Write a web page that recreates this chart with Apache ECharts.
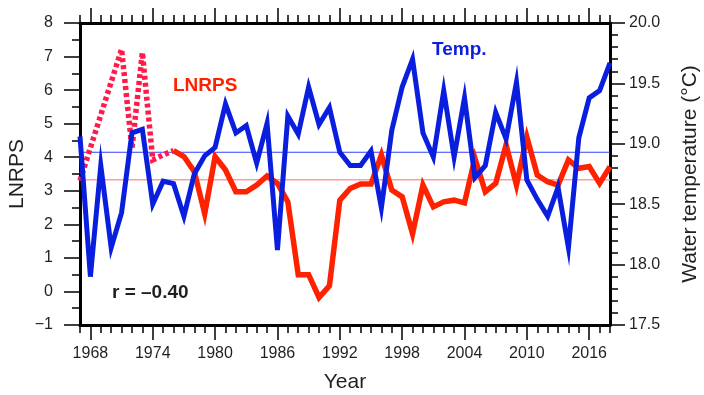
<!DOCTYPE html>
<html>
<head>
<meta charset="utf-8">
<script src="https://cdn.jsdelivr.net/npm/echarts@6/dist/echarts.min.js"></script>
<style>html,body{margin:0;padding:0;background:#fff}#c{width:704px;height:395px}</style>
</head>
<body>
<div id="c"></div>
<script>
// ---- data ----
var years = [];
for (var y = 1967; y <= 2018; y++) years.push(y);

var tempValues = [19.06, 17.90, 18.82, 18.14, 18.43, 19.09, 19.12, 18.50, 18.69, 18.67,
  18.40, 18.75, 18.90, 18.97, 19.33, 19.09, 19.15, 18.84, 19.17, 18.12,
  19.23, 19.08, 19.47, 19.16, 19.30, 18.93, 18.82, 18.82, 18.94, 18.47,
  19.11, 19.47, 19.70, 19.09, 18.89, 19.44, 18.89, 19.38, 18.72, 18.82,
  19.26, 19.04, 19.51, 18.70, 18.54, 18.40, 18.64, 18.14, 19.05, 19.38,
  19.44, 19.67];

// LNRPS, early (dotted) part: 1967-1976; null = no point
var lnrpsEarlyYears = [1967, 1968, 1969, 1970, 1971, 1972, 1973, 1974, 1975, 1976];
var lnrpsEarly = [3.30, null, null, null, 7.22, 4.27, 7.12, 3.92, 4.07, 4.20];

// LNRPS, solid part: 1976-2018
var lnrpsYears = [];
for (var y2 = 1976; y2 <= 2018; y2++) lnrpsYears.push(y2);
var lnrps = [4.20, 4.02, 3.57, 2.32, 4.02, 3.62, 2.97, 2.97, 3.17, 3.44,
  3.22, 2.67, 0.50, 0.50, -0.18, 0.17, 2.72, 3.07, 3.20, 3.20,
  4.07, 3.02, 2.82, 1.72, 3.17, 2.52, 2.67, 2.72, 2.64, 3.97,
  2.97, 3.22, 4.37, 3.17, 4.60, 3.47, 3.27, 3.17, 3.92, 3.67,
  3.72, 3.22, 3.72];

var meanTemp = 18.93;
var meanLnrps = 3.33;

var xMajorTicks = [1968, 1974, 1980, 1986, 1992, 1998, 2004, 2010, 2016];

// ---- chart ----
var FONT = '"Liberation Sans", Arial, Helvetica, sans-serif';
var TXT = '#231f20';

function pairs(xs, vs) { return xs.map(function (x, i) { return [x, vs[i]]; }); }

var chart = echarts.init(document.getElementById('c'), null, { renderer: 'canvas' });

var axLine = { show: true, onZero: false, lineStyle: { color: '#000', width: 3 } };
var noLine = { show: false, onZero: false };
var tickStyle = { color: '#000', width: 1.5 };

var option = {
  animation: false,
  backgroundColor: '#fff',
  grid: { left: 80, top: 23, right: 94, bottom: 70, containLabel: false, outerBoundsMode: 'none' },
  xAxis: [
    {
      type: 'value', min: 1967, max: 2018, position: 'bottom',
      axisLine: axLine,
      axisTick: { show: true, length: 15, lineStyle: tickStyle, customValues: xMajorTicks },
      axisLabel: { show: true, customValues: xMajorTicks, margin: 21, fontSize: 16, color: TXT, fontFamily: FONT,
        formatter: function (v) { return String(v); } },
      splitLine: { show: false },
      name: 'Year', nameLocation: 'middle', nameGap: 47,
      nameTextStyle: { fontSize: 21, color: TXT, fontFamily: FONT }
    },
    {
      type: 'value', min: 1967, max: 2018, interval: 1, position: 'bottom',
      axisLine: noLine,
      axisTick: { show: true, length: 8, lineStyle: tickStyle },
      axisLabel: { show: false }, splitLine: { show: false }
    },
    {
      type: 'value', min: 1967, max: 2018, position: 'top',
      axisLine: axLine,
      axisTick: { show: true, length: 15, lineStyle: tickStyle, customValues: xMajorTicks },
      axisLabel: { show: false }, splitLine: { show: false }
    },
    {
      type: 'value', min: 1967, max: 2018, interval: 1, position: 'top',
      axisLine: noLine,
      axisTick: { show: true, length: 8, lineStyle: tickStyle },
      axisLabel: { show: false }, splitLine: { show: false }
    }
  ],
  yAxis: [
    {
      type: 'value', min: -1, max: 8, interval: 1, position: 'left',
      axisLine: axLine,
      axisTick: { show: true, length: 16, lineStyle: tickStyle },
      minorTick: { show: true, splitNumber: 2, length: 8, lineStyle: tickStyle },
      axisLabel: {
        show: true, margin: 27, fontSize: 16, color: TXT, fontFamily: FONT,
        formatter: function (v) { return v < 0 ? '\u2212' + Math.abs(v) : String(v); }
      },
      splitLine: { show: false },
      name: 'LNRPS', nameLocation: 'middle', nameGap: 52, nameRotate: 90, nameMoveOverlap: false,
      nameTextStyle: { fontSize: 21, color: TXT, fontFamily: FONT }
    },
    {
      type: 'value', min: 17.5, max: 20, interval: 0.5, position: 'right',
      axisLine: axLine,
      axisTick: { show: true, length: 15, lineStyle: tickStyle },
      minorTick: { show: true, splitNumber: 5, length: 8, lineStyle: tickStyle },
      axisLabel: {
        show: true, margin: 19, fontSize: 16, color: TXT, fontFamily: FONT,
        formatter: function (v) { return v.toFixed(1); }
      },
      splitLine: { show: false },
      name: 'Water temperature (\u00b0C)', nameLocation: 'middle', nameGap: 70, nameRotate: 90,
      nameTextStyle: { fontSize: 21, color: TXT, fontFamily: FONT }
    }
  ],
  series: [
    { type: 'line', name: 'meanL', xAxisIndex: 0, yAxisIndex: 0, z: 1, data: [[1967, meanLnrps], [2018, meanLnrps]],
      showSymbol: false, symbol: 'none', silent: true, lineStyle: { color: '#ff9c9c', width: 1.5 } },
    { type: 'line', name: 'meanT', xAxisIndex: 0, yAxisIndex: 1, z: 1, data: [[1967, meanTemp], [2018, meanTemp]],
      showSymbol: false, symbol: 'none', silent: true, lineStyle: { color: '#3040ff', width: 1 } },
    { type: 'line', name: 'LNRPS early', xAxisIndex: 0, yAxisIndex: 0, z: 2, data: pairs(lnrpsEarlyYears, lnrpsEarly), connectNulls: true,
      showSymbol: false, symbol: 'none', lineStyle: { color: '#ff1a4a', width: 5.5, type: [4, 3], cap: 'butt', join: 'miter' } },
    { type: 'line', name: 'LNRPS', xAxisIndex: 0, yAxisIndex: 0, z: 3, data: pairs(lnrpsYears, lnrps),
      showSymbol: false, symbol: 'none', lineStyle: { color: '#ff2200', width: 5.5, join: 'miter' } },
    { type: 'line', name: 'Temp.', xAxisIndex: 0, yAxisIndex: 1, z: 4, data: pairs(years, tempValues),
      showSymbol: false, symbol: 'none', lineStyle: { color: '#0a1ede', width: 5, join: 'miter' } }
  ],
  graphic: [
    { type: 'text', left: 173, top: 76, style: { text: 'LNRPS', fill: '#ff2200', font: 'bold 19px ' + FONT } },
    { type: 'text', left: 432, top: 40, style: { text: 'Temp.', fill: '#0a1ede', font: 'bold 19px ' + FONT } },
    { type: 'text', left: 112, top: 283, style: { text: 'r = \u20130.40', fill: TXT, font: 'bold 19px ' + FONT } }
  ]
};
chart.setOption(option);
</script>
</body>
</html>
